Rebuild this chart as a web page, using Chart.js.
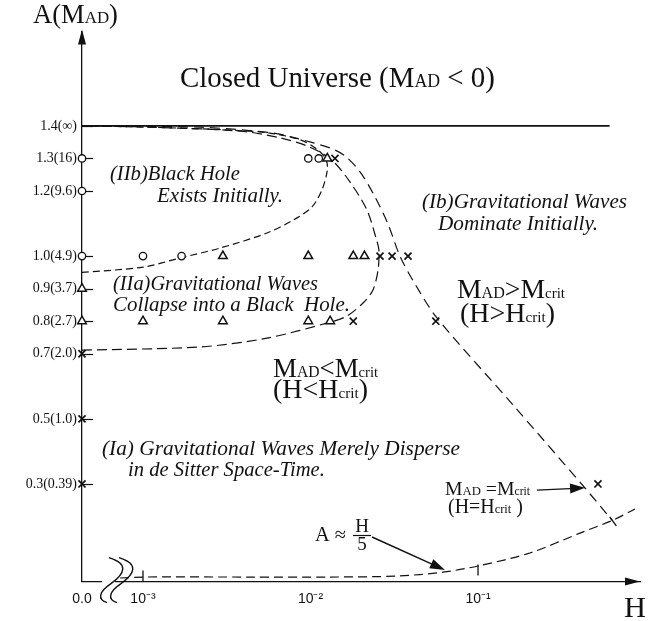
<!DOCTYPE html>
<html>
<head>
<meta charset="utf-8">
<script src="https://cdn.jsdelivr.net/npm/chart.js@4.4.1/dist/chart.umd.min.js"></script>
<style>
  html, body { margin: 0; padding: 0; background: #fff; }
  canvas { display: block; }
</style>
</head>
<body>
<canvas id="phase" width="660" height="621"></canvas>
<script>
// Phase diagram of the initial amplitude A (mass M_AD) against the parameter H.

// Axis ticks
const yTickValues = [0.3, 0.5, 0.7, 0.8, 0.9, 1.0, 1.2, 1.3, 1.4];
const yTickLabels = ['0.3(0.39)', '0.5(1.0)', '0.7(2.0)', '0.8(2.7)', '0.9(3.7)', '1.0(4.9)', '1.2(9.6)', '1.3(16)', '1.4(\u221e)'];
const xTickDecades = [-3, -2, -1];
const xTickLabels = ['10\u207b\u00b3', '10\u207b\u00b2', '10\u207b\u00b9'];

// Runs (H = 0 sits on the vertical axis)
const circleH = [0, 0, 0, 0.001, 0.0017, 0.0097, 0.0112];
const circleA = [1.3, 1.2, 1.0, 1.0, 1.0, 1.3, 1.3];
const triangleH = [0, 0, 0.003, 0.0097, 0.018, 0.021, 0.001, 0.003, 0.0097, 0.0131, 0.0126];
const triangleA = [0.9, 0.8, 1.0, 1.0, 1.0, 1.0, 0.8, 0.8, 0.8, 0.8, 1.3];
const crossH = [0, 0, 0, 0.026, 0.0307, 0.0382, 0.018, 0.056, 0.014, 0.52];
const crossA = [0.7, 0.5, 0.3, 1.0, 1.0, 1.0, 0.8, 0.8, 1.3, 0.3];

// Boundary of region IIb (black hole exists initially)
const loopH = [0, 0.001, 0.00166, 0.0029, 0.0055, 0.0079, 0.0102, 0.0117, 0.0126, 0.0124, 0.0111, 0.0087, 0.0057, 0.0033, 0.0011, 0];
const loopA = [0.95, 0.966, 0.994, 1.025, 1.071, 1.111, 1.151, 1.203, 1.264, 1.295, 1.326, 1.357, 1.378, 1.387, 1.396, 1.4];

// Boundary of region IIa (waves collapse into a black hole)
const collapseH = [0, 0.0022, 0.0055, 0.0131, 0.0165, 0.0206, 0.0236, 0.0253, 0.0256, 0.0246, 0.0217, 0.0172, 0.0134, 0.0099, 0.0066, 0.0038, 0.0011, 0];
const collapseA = [0.711, 0.721, 0.748, 0.797, 0.816, 0.856, 0.896, 0.957, 1.019, 1.056, 1.142, 1.228, 1.295, 1.335, 1.363, 1.384, 1.396, 1.4];

// M_AD = M_crit
const critH = [0, 0.0022, 0.006, 0.0081, 0.0131, 0.0161, 0.0198, 0.0241, 0.029, 0.0342, 0.0421, 0.0569, 0.162, 0.435, 0.631];
const critA = [1.4, 1.396, 1.378, 1.363, 1.332, 1.3075, 1.258, 1.185, 1.099, 1.0, 0.914, 0.81, 0.5425, 0.2876, 0.189];

// A ~ H/5
const smallH = [0.00073, 0.001, 0.0044, 0.0131, 0.0328, 0.0618, 0.1, 0.204, 0.406, 0.64, 0.865];
const smallA = [0.011, 0.014, 0.014, 0.014, 0.017, 0.029, 0.048, 0.088, 0.149, 0.189, 0.223];

// Marks on the A ~ H/5 curve
const markH = [0.001, 0.1, 0.64];
const markA = [0.017, 0.036, 0.185];
const markAngle = [90, 90, 53];

// Closed universe limit
const closedH = [0, 0.61];
const closedA = [1.4, 1.4];

// Axis range (x in decades of H; the left edge stands for H = 0)
const X_MIN = -3.364, X_MAX = -0.033, Y_MIN = 0, Y_MAX = 1.69;
const toX = h => (h > 0 ? Math.log10(h) : X_MIN);
const pts = (hs, as) => hs.map((h, i) => ({ x: toX(h), y: as[i] }));

const INK = '#111';
const SERIF = '"Liberation Serif", "Times New Roman", serif';
const fontOf = (size, style) => (style === 'i' ? 'italic ' : '') + size.toFixed(2) + 'px ' + SERIF;

// Text placed on the diagram: left x, baseline y, width, rich parts [text, size, style]
const notes = [
  { x: 33, y: 23, w: 85, parts: [['A(M', 22], ['AD', 14], [')', 22]] },
  { x: 180, y: 87, w: 315, parts: [['Closed Universe (M', 26], ['AD', 16], [' < 0)', 26]] },
  { x: 110, y: 180, w: 130, parts: [['(IIb)Black Hole', 17, 'i']] },
  { x: 157, y: 202, w: 126, parts: [['Exists Initially.', 17, 'i']] },
  { x: 422, y: 208, w: 205, parts: [['(Ib)Gravitational Waves', 17, 'i']] },
  { x: 438, y: 230, w: 160, parts: [['Dominate Initially.', 17, 'i']] },
  { x: 113, y: 290, w: 205, parts: [['(IIa)Gravitational Waves', 17, 'i']] },
  { x: 113, y: 311, w: 237, parts: [['Collapse into a Black  Hole.', 17, 'i']] },
  { x: 457, y: 298, w: 108, parts: [['M', 24], ['AD', 14], ['>M', 24], ['crit', 13]] },
  { x: 460, y: 322, w: 95, parts: [['(H>H', 24], ['crit', 13], [')', 24]] },
  { x: 273, y: 377, w: 105, parts: [['M', 24], ['AD', 14], ['<M', 24], ['crit', 13]] },
  { x: 273, y: 398, w: 95, parts: [['(H<H', 24], ['crit', 13], [')', 24]] },
  { x: 102, y: 455, w: 358, parts: [['(Ia) Gravitational Waves Merely Disperse', 18, 'i']] },
  { x: 128, y: 476, w: 197, parts: [['in de Sitter Space-Time.', 18, 'i']] },
  { x: 445, y: 495, w: 85, parts: [['M', 17], ['AD', 11], [' =M', 17], ['crit', 10]] },
  { x: 448, y: 513, w: 75, parts: [['(H=H', 16], ['crit', 10], [' )', 16]] },
  { x: 315, y: 541, w: 31, parts: [['A \u2248', 17]] },
  { x: 624, y: 617, w: 22, parts: [['H', 25]] }
];

// Arrows in data units: [H from, A from, H to, A to]
const pointers = [
  [0.225, 0.281, 0.4355, 0.288],
  [0.0233, 0.137, 0.0635, 0.036]
];

function drawRich(ctx, note) {
  let total = 0;
  note.parts.forEach(([t, s, st]) => { ctx.font = fontOf(s, st); total += ctx.measureText(t).width; });
  const k = note.w ? note.w / total : 1;
  let cx = note.x;
  note.parts.forEach(([t, s, st]) => {
    ctx.font = fontOf(s * k, st);
    ctx.fillText(t, cx, note.y);
    cx += ctx.measureText(t).width;
  });
}

function arrowHead(ctx, x1, y1, x2, y2, len, half) {
  const a = Math.atan2(y2 - y1, x2 - x1), c = Math.cos(a), s = Math.sin(a);
  ctx.beginPath();
  ctx.moveTo(x2, y2);
  ctx.lineTo(x2 - len * c + half * s, y2 - len * s - half * c);
  ctx.lineTo(x2 - len * c - half * s, y2 - len * s + half * c);
  ctx.closePath();
  ctx.fill();
}

const decorations = {
  id: 'decorations',
  beforeDatasetsDraw(chart) {
    const { ctx, scales: { x, y } } = chart;
    const x0 = x.getPixelForValue(X_MIN);
    ctx.save();
    ctx.strokeStyle = INK;
    ctx.lineWidth = 1.2;
    yTickValues.forEach(v => {
      const py = Math.round(y.getPixelForValue(v)) + 0.5;
      ctx.beginPath(); ctx.moveTo(x0, py); ctx.lineTo(x0 + 11, py); ctx.stroke();
    });
    ctx.restore();
  },
  afterDatasetsDraw(chart) {
    const { ctx, chartArea: area, scales: { x, y } } = chart;
    ctx.save();
    ctx.fillStyle = INK;
    ctx.strokeStyle = INK;
    ctx.lineWidth = 1.3;

    // axis arrowheads
    const ax = x.getPixelForValue(X_MIN), ay = y.getPixelForValue(0);
    arrowHead(ctx, ax, ay, ax, area.top - 2, 15, 4);
    arrowHead(ctx, ax, ay, area.right, ay, 15, 4);

    // axis break
    const bx = ax + 21;
    ctx.fillStyle = '#fff';
    ctx.fillRect(bx - 1, ay - 3, 13, 6);
    ctx.fillStyle = INK;
    ctx.lineWidth = 1.4;
    [0, 10].forEach(dx => {
      const sx = bx + dx;
      ctx.beginPath();
      ctx.moveTo(sx + 6, ay - 24);
      ctx.bezierCurveTo(sx + 26, ay - 18, sx + 22, ay - 8, sx + 8, ay + 2);
      ctx.bezierCurveTo(sx - 4, ay + 10, sx - 6, ay + 18, sx + 4, ay + 21);
      ctx.stroke();
    });

    // pointers
    ctx.lineWidth = 1.4;
    pointers.forEach(([h1, a1, h2, a2]) => {
      const x1 = x.getPixelForValue(toX(h1)), y1 = y.getPixelForValue(a1);
      const x2 = x.getPixelForValue(toX(h2)), y2 = y.getPixelForValue(a2);
      const ang = Math.atan2(y2 - y1, x2 - x1);
      ctx.beginPath();
      ctx.moveTo(x1, y1);
      ctx.lineTo(x2 - 10 * Math.cos(ang), y2 - 10 * Math.sin(ang));
      ctx.stroke();
      arrowHead(ctx, x1, y1, x2, y2, 15, 5);
    });

    // labels
    ctx.textBaseline = 'alphabetic';
    ctx.textAlign = 'left';
    notes.forEach(n => drawRich(ctx, n));

    // H over 5
    ctx.textAlign = 'center';
    ctx.font = fontOf(19);
    ctx.fillText('H', 362, 532);
    ctx.fillText('5', 362, 550);
    ctx.lineWidth = 1.2;
    ctx.beginPath(); ctx.moveTo(353, 535.5); ctx.lineTo(371, 535.5); ctx.stroke();
    ctx.restore();
  }
};

const lineSet = (hs, as, dash, width) => ({
  data: pts(hs, as),
  showLine: true,
  borderColor: INK,
  borderWidth: width,
  borderDash: dash,
  pointRadius: 0,
  tension: 0.3,
  fill: false,
  clip: false
});

new Chart(document.getElementById('phase'), {
  type: 'scatter',
  data: {
    datasets: [
      { data: pts(circleH, circleA), pointStyle: 'circle', pointRadius: 3.7, backgroundColor: '#fff', borderColor: INK, borderWidth: 1.3, clip: false },
      { data: pts(triangleH, triangleA), pointStyle: 'triangle', pointRadius: 5, backgroundColor: '#fff', borderColor: INK, borderWidth: 1.5, clip: false },
      { data: pts(crossH, crossA), pointStyle: 'crossRot', pointRadius: 5, borderColor: INK, borderWidth: 1.7, clip: false },
      { data: pts(markH, markA), pointStyle: 'line', pointRadius: 5.5, pointRotation: markAngle, borderColor: INK, borderWidth: 1.3, clip: false },
      lineSet(closedH, closedA, [], 1.8),
      lineSet(loopH, loopA, [7, 4], 1.2),
      lineSet(collapseH, collapseA, [10, 5], 1.2),
      lineSet(critH, critA, [10, 6], 1.2),
      lineSet(smallH, smallA, [9, 5], 1.2)
    ]
  },
  options: {
    responsive: false,
    animation: false,
    events: [],
    layout: { padding: { top: 31.5, right: 20, left: 0, bottom: 0 } },
    plugins: { legend: { display: false }, tooltip: { enabled: false } },
    scales: {
      x: {
        type: 'linear',
        min: X_MIN,
        max: X_MAX,
        afterFit: s => { s.height = 39.4; },
        afterBuildTicks: s => { s.ticks = [X_MIN, ...xTickDecades].map(v => ({ value: v })); },
        grid: { display: false, drawTicks: false },
        border: { color: INK, width: 1.3 },
        ticks: {
          autoSkip: false,
          maxRotation: 0,
          padding: 9,
          color: INK,
          font: { family: '"Liberation Sans", Arial, sans-serif', size: 14 },
          callback: (v, i) => (i === 0 ? '0.0' : xTickLabels[i - 1])
        }
      },
      y: {
        min: Y_MIN,
        max: Y_MAX,
        afterFit: s => { s.width = 82; },
        afterBuildTicks: s => { s.ticks = yTickValues.map(v => ({ value: v })); },
        grid: { display: false, drawTicks: false },
        border: { color: INK, width: 1.3 },
        ticks: {
          autoSkip: false,
          padding: 5,
          color: INK,
          font: { family: SERIF, size: 14 },
          callback: (v, i) => yTickLabels[i]
        }
      }
    }
  },
  plugins: [decorations]
});
</script>
</body>
</html>
